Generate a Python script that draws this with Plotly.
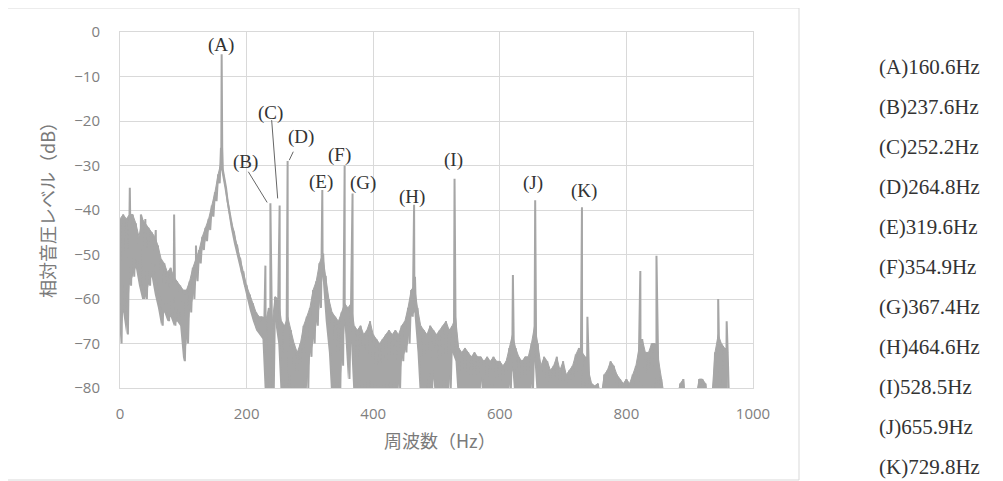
import plotly.graph_objects as go

# ---------------- data ----------------
# band of the noisy spectrum, sampled every 5 Hz: upper and lower envelope (dB)
band_freq = list(range(0, 965, 5))
band_hi = [
    -42, -41, -42, -41, -41, -43, -46, -42, -43, -44,   # 0-45
    -45, -46, -48, -51, -52, -54, -53, -55, -56, -57,   # 50-95
    -58, -58, -56, -53, -51, -49, -46, -44, -42, -39,   # 100-145
    -36, -32, -29, -33, -38, -42, -45, -48, -51, -54,   # 150-195
    -57, -59, -61, -63, -64, -64, -65, -62, -66, -59.5, # 200-245
    -60, -65, -66, -64, -67, -70, -72, -70, -66, -64,   # 250-295
    -62, -58, -56, -52, -50, -55, -60, -63, -64, -65,   # 300-345
    -63, -61, -62, -61, -66, -67, -66, -68, -67, -65,   # 350-395
    -68, -69, -70, -69, -68, -67, -68, -67, -68, -66,   # 400-445
    -65, -62, -58, -57, -62, -66, -67, -68, -66, -67,   # 450-495
    -68, -67, -66, -65, -67, -66, -64, -71, -72, -71,   # 500-545
    -72, -73, -72, -73, -73, -74, -73, -74, -73, -74,   # 550-595
    -74, -75, -74, -71, -68, -71, -73, -74, -73, -73,   # 600-645
    -70, -66, -70, -75, -73, -74, -76, -75, -73, -76,   # 650-695
    -74, -77, -76, -75, -72.5, -71, -72, -73, -76, -79, # 700-745
    -79.5, -79, -82, -77, -76, -74, -75, -77, -78, -79, # 750-795
    -78, -79, -77, -75, -71, -69, -72, -72, -70, -70,   # 800-845
    -73, -78, -82, -85, -85, -85, -82, -79, -78, -85,   # 850-895
    -85, -85, -82, -78, -78, -79, -85, -82, -72, -68,   # 900-945
    -70, -71, -72,                                      # 950-960
]
band_lo = [
    -70, -63, -68, -57, -55, -53, -57, -60, -60, -57,   # 0-45
    -55, -59, -62, -66, -63, -65, -64, -66, -65, -66,   # 50-95
    -74, -70, -63, -60, -56, -52, -49, -47, -44.5, -41.5,  # 100-145
    -38, -34, -31, -35, -40, -44, -47.5, -50.5, -54, -57,  # 150-195
    -60, -62.5, -65, -67, -68, -69, -85, -85, -85, -65, # 200-245
    -70, -85, -85, -80, -85, -85, -85, -85, -85, -80,   # 250-295
    -73, -70, -66, -62, -55, -65, -72, -85, -85, -85,   # 300-345
    -75, -66, -78, -70, -85, -85, -85, -85, -85, -85,   # 350-395
    -85, -85, -85, -85, -85, -85, -85, -85, -80, -74,   # 400-445
    -72, -70, -64, -63, -72, -85, -85, -80, -85, -78,   # 450-495
    -85, -85, -85, -85, -80, -72, -74, -85, -85, -85,   # 500-545
    -85, -85, -85, -85, -78, -85, -85, -80, -85, -85,   # 550-595
    -85, -85, -85, -80, -76, -85, -85, -85, -85, -85,   # 600-645
    -80, -74, -85, -85, -85, -85, -85, -85, -85, -85,   # 650-695
    -85, -85, -85, -85, -85, -85, -80, -85, -85, -85,   # 700-745
    -85, -85, -85, -85, -85, -85, -85, -85, -85, -85,   # 750-795
    -85, -85, -85, -85, -85, -85, -85, -85, -85, -80,   # 800-845
    -85, -85, -85, -85, -85, -85, -85, -85, -85, -85,   # 850-895
    -85, -85, -85, -85, -85, -85, -85, -85, -85, -80,   # 900-945
    -85, -85, -85,                                      # 950-960
]

# narrow spectral lines (Hz, dB)
spike_freq = [15.5, 33, 40, 56.5, 85.5, 120, 159.5, 160.6, 161.5, 229.7,
              237.6, 252.2, 264.8, 318.5, 319.6, 321, 354.9, 367.4, 463.5,
              464.6, 466, 528.5, 529.5, 620.7, 655.9, 729.8, 738.4, 822,
              847.5, 945, 958.4]
spike_level = [-35, -41, -42, -44.5, -41, -48, -26, -5, -26, -52.5,
               -38.5, -39, -29, -50, -35.5, -50, -30, -36.3, -55,
               -38.8, -55, -33, -53.5, -54.6, -37.8, -39.4, -64, -53.7,
               -50.3, -60, -65]

# labelled peaks
peak_names = ["A", "B", "C", "D", "E", "F", "G", "H", "I", "J", "K"]
peak_hz = ["160.6", "237.6", "252.2", "264.8", "319.6", "354.9",
           "367.4", "464.6", "528.5", "655.9", "729.8"]
# label centres (Hz, dB)
label_x = [159.6, 197.6, 237.0, 285.9, 317.0, 346.4, 384.3, 460.6, 526.4, 652.6, 732.6]
label_y = [-2.9, -29.1, -18.3, -23.5, -33.6, -27.6, -34.0, -37.0, -28.8, -34.0, -35.7]
# leader lines (x0, y0, x1, y1) in Hz / dB
leaders = [(202.7, -31.4, 232.5, -38.3),
           (239.6, -19.8, 249.1, -37.4),
           (273.7, -26.9, 267.4, -28.8)]

x_ticks = [0, 200, 400, 600, 800, 1000]
y_ticks = [0, -10, -20, -30, -40, -50, -60, -70, -80]

# ---------------- build the traces ----------------
pts = []
for f, h, l in zip(band_freq, band_hi, band_lo):
    pts.append((f, h))
    pts.append((f + 2.5, l))
pts += list(zip(spike_freq, spike_level))
pts.sort(key=lambda p: p[0])
xs = [p[0] for p in pts]
ys = [p[1] for p in pts]

GRAY = "#a6a6a6"
fig = go.Figure()
# filled body of the noise band
fig.add_trace(go.Scatter(x=band_freq, y=band_lo, mode="lines",
                         line=dict(color=GRAY, width=0), hoverinfo="skip",
                         showlegend=False))
fig.add_trace(go.Scatter(x=band_freq, y=band_hi, mode="lines", fill="tonexty",
                         fillcolor=GRAY, line=dict(color=GRAY, width=1),
                         hoverinfo="skip", showlegend=False))
# jagged spectrum line with the spectral peaks
fig.add_trace(go.Scatter(x=xs, y=ys, mode="lines",
                         line=dict(color=GRAY, width=2),
                         hoverinfo="skip", showlegend=False))

# page pixels -> figure (the page body has an 8 px margin)
OFF = 8
W, H = 1003 - OFF, 481 - OFF
L, T = 120 - OFF, 32 - OFF
pw, ph = 633, 356
R, B = W - L - pw, H - T - ph


def px(xp):
    return (xp - OFF - L) / pw


def py(yp):
    return (H - B - (yp - OFF)) / ph


grid = "#d9d9d9"
tick_font = dict(family="Open Sans, Liberation Sans, sans-serif", size=15, color="#808080")

fig.update_layout(
    width=W, height=H,
    margin=dict(l=L, r=R, t=T, b=B, autoexpand=False),
    paper_bgcolor="white", plot_bgcolor="white",
    xaxis=dict(range=[0, 1000], tickvals=x_ticks, showgrid=True, gridcolor=grid,
               gridwidth=1, zeroline=False, showline=True, mirror=True,
               linecolor=grid, linewidth=1, ticks="outside", ticklen=12,
               tickcolor="rgba(0,0,0,0)", tickfont=tick_font),
    yaxis=dict(range=[-80, 0], tickvals=y_ticks, showgrid=True, gridcolor=grid,
               gridwidth=1, zeroline=False, showline=True, mirror=True,
               linecolor=grid, linewidth=1, ticks="outside", ticklen=16,
               tickcolor="rgba(0,0,0,0)", tickfont=tick_font),
)

annotations = []
serif = dict(family="Liberation Serif, serif", size=19, color="#333333")
for n, lx, ly in zip(peak_names, label_x, label_y):
    annotations.append(dict(x=lx, y=ly, xref="x", yref="y", text=f"({n})",
                            showarrow=False, font=serif,
                            xanchor="center", yanchor="middle"))

# list of peak frequencies at the right
for k, (n, hz) in enumerate(zip(peak_names, peak_hz)):
    annotations.append(dict(x=px(877), y=py(66.7 + 40.0 * k), xref="paper", yref="paper",
                            text=f"({n}){hz}Hz", showarrow=False,
                            font=dict(family="Liberation Serif, serif", size=21, color="#333333"),
                            xanchor="left", yanchor="middle"))

title_font = dict(family="Noto Sans CJK JP, sans-serif", size=18, color="#7a7a7a")
annotations.append(dict(x=px(47), y=py(206), xref="paper", yref="paper",
                        text="相対音圧レベル（dB）", textangle=-90, showarrow=False,
                        font=title_font, xanchor="center", yanchor="middle"))
annotations.append(dict(x=px(440), y=py(440), xref="paper", yref="paper",
                        text="周波数（Hz）", showarrow=False,
                        font=title_font, xanchor="center", yanchor="middle"))
fig.update_layout(annotations=annotations)

shapes = []
for x0, y0, x1, y1 in leaders:
    shapes.append(dict(type="line", xref="x", yref="y", x0=x0, y0=y0, x1=x1, y1=y1,
                       line=dict(color="#666666", width=1)))
# outer chart frame
shapes.append(dict(type="rect", xref="paper", yref="paper",
                   x0=px(7), x1=px(799), y0=py(480), y1=py(8),
                   line=dict(color=grid, width=1), layer="below"))
fig.update_layout(shapes=shapes)

fig.write_html("out.html")
